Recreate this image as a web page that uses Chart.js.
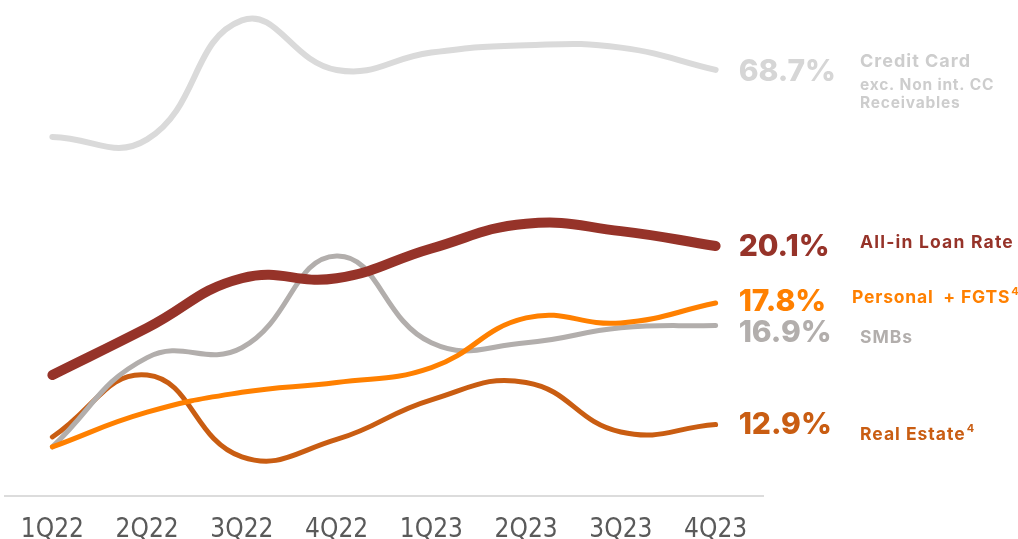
<!DOCTYPE html>
<html>
<head>
<meta charset="utf-8">
<script src="https://cdn.jsdelivr.net/npm/chart.js@4.4.1/dist/chart.umd.min.js"></script>
<style>
  html, body { margin: 0; padding: 0; background: #ffffff; }
  #wrap { width: 1018px; height: 539px; position: relative; }
</style>
</head>
<body>
<div id="wrap"><canvas id="c" width="1018" height="539"></canvas></div>
<script>
// ---- data ----
const quarters = ['1Q22', '2Q22', '3Q22', '4Q22', '1Q23', '2Q23', '3Q23', '4Q23'];
const creditCard = [66.0, 65.9, 70.7, 68.7, 69.4, 69.7, 69.6, 68.7];
const allInLoanRate = [14.9, 16.8, 18.8, 18.8, 20.0, 21.0, 20.7, 20.1];
const personalFgts = [12.0, 13.4, 14.2, 14.6, 15.2, 17.2, 17.0, 17.8];
const smbs = [12.0, 15.6, 16.0, 19.7, 16.2, 16.2, 16.8, 16.9];
const realEstate = [12.4, 14.9, 11.6, 12.3, 13.9, 14.6, 12.6, 12.9];
const endValueLabels = ['68.7%', '20.1%', '17.8%', '16.9%', '12.9%'];
const seriesNames = [
  ['Credit Card', 'exc. Non int. CC', 'Receivables'],
  ['All-in Loan Rate'],
  ['Personal  + FGTS'],
  ['SMBs'],
  ['Real Estate']
];
const seriesFootnotes = ['', '', '4', '', '4'];

// ---- styles ----
const colors = ['#dadada', '#963329', '#ff8000', '#b2aeac', '#c95d12'];
const widths = [6, 10, 5, 5, 5];

const endLabelPlugin = {
  id: 'endLabels',
  afterDatasetsDraw(chart) {
    const ctx = chart.ctx;
    const cfg = [
      { vdy: 2, nx: 860, lines: [{ dy: -8, size: 18, ls: 1 }, { dy: 15, size: 15.5, ls: 0.8 }, { dy: 33, size: 15.5, ls: 0.8 }] },
      { vdy: 1, nx: 860, lines: [{ dy: -3, size: 17.5, ls: 1.2 }] },
      { vdy: -1, nx: 852, lines: [{ dy: -5, size: 17.5, ls: 0.8 }] },
      { vdy: 8, nx: 860, lines: [{ dy: 12, size: 17.5, ls: 1 }] },
      { vdy: 0, nx: 860, lines: [{ dy: 10, size: 17.5, ls: 1 }] }
    ];
    ctx.save();
    ctx.textBaseline = 'middle';
    ctx.textAlign = 'left';
    chart.data.datasets.forEach((ds, di) => {
      const i = ds.seriesIndex;
      const meta = chart.getDatasetMeta(di);
      const pt = meta.data[meta.data.length - 1];
      const c = cfg[i];
      ctx.letterSpacing = '0px';
      ctx.fillStyle = i === 0 ? '#d6d6d6' : colors[i];
      ctx.font = '800 30px Inter, "Open Sans", sans-serif';
      ctx.fillText(endValueLabels[i], pt.x + 23, pt.y + c.vdy);
      ctx.fillStyle = i === 0 ? '#cdcdcd' : colors[i];
      seriesNames[i].forEach((txt, k) => {
        const L = c.lines[k];
        ctx.letterSpacing = L.ls + 'px';
        ctx.font = '700 ' + L.size + 'px Inter, "Open Sans", sans-serif';
        const y = pt.y + L.dy;
        ctx.fillText(txt, c.nx, y);
        if (k === seriesNames[i].length - 1 && seriesFootnotes[i]) {
          const w = ctx.measureText(txt).width;
          ctx.letterSpacing = '0px';
          ctx.font = '700 11px Inter, "Open Sans", sans-serif';
          ctx.fillText(seriesFootnotes[i], c.nx + w + 1, y - 6);
        }
      });
    });
    ctx.restore();
  }
};

function mk(label, data, i, axis) {
  return {
    label: label,
    seriesIndex: i,
    data: data,
    borderColor: colors[i],
    backgroundColor: colors[i],
    borderWidth: widths[i],
    borderCapStyle: 'round',
    borderJoinStyle: 'round',
    pointRadius: 0,
    tension: 0.45,
    fill: false,
    clip: false,
    yAxisID: axis
  };
}

new Chart(document.getElementById('c'), {
  type: 'line',
  data: {
    labels: quarters,
    datasets: [
      mk('Credit Card', creditCard, 0, 'yCC'),
      mk('All-in Loan Rate', allInLoanRate, 1, 'y'),
      mk('Personal + FGTS', personalFgts, 2, 'y'),
      mk('SMBs', smbs, 3, 'y'),
      mk('Real Estate', realEstate, 4, 'y')
    ]
  },
  options: {
    responsive: false,
    animation: false,
    layout: { padding: { left: 5, right: 255, top: 0, bottom: 0 } },
    plugins: { legend: { display: false }, tooltip: { enabled: false } },
    scales: {
      x: {
        offset: true,
        grid: { display: false, drawTicks: false },
        border: { display: true, color: '#dcdcdc', width: 2 },
        afterFit(scale) { scale.height = 43; },
        ticks: {
          color: '#5a5a5a',
          padding: 19,
          font: { family: '"Liberation Sans Narrow", "DejaVu Sans Condensed", sans-serif', size: 26, weight: '300' }
        }
      },
      y: { display: false, min: 10.02, max: 30.02 },
      yCC: { display: false, min: 51.52, max: 71.52 }
    }
  },
  plugins: [endLabelPlugin]
});
</script>
</body>
</html>
